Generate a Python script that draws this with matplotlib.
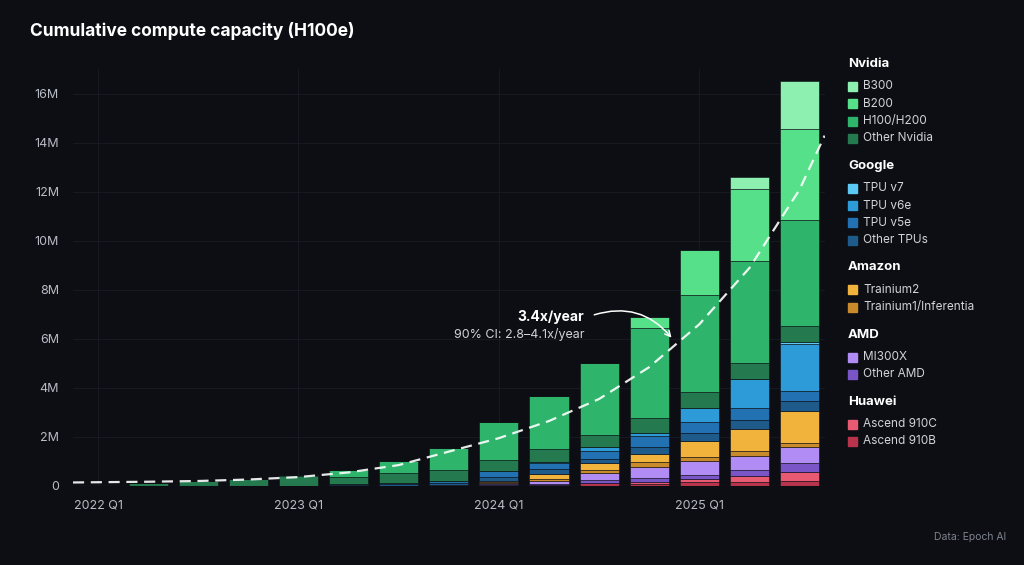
import matplotlib

matplotlib.use("Agg")
import matplotlib.pyplot as plt
from matplotlib.patches import Rectangle
import numpy as np

plt.rcParams["font.family"] = ["Inter", "DejaVu Sans"]

BG = "#0c0e13"

quarters = ["2022 Q1", "2022 Q2", "2022 Q3", "2022 Q4", "2023 Q1", "2023 Q2", "2023 Q3",
            "2023 Q4", "2024 Q1", "2024 Q2", "2024 Q3", "2024 Q4", "2025 Q1", "2025 Q2", "2025 Q3"]
tick_labels = ["2022 Q1", "2023 Q1", "2024 Q1", "2025 Q1"]

# values in millions H100e, bottom of stack first
ascend_910b = [0, 0, 0, 0, 0, 0, 0, 0, 0.02, 0.04, 0.10, 0.07, 0.14, 0.16, 0.18]
ascend_910c = [0, 0, 0, 0, 0, 0, 0, 0, 0, 0, 0, 0.07, 0.14, 0.24, 0.37]
other_amd = [0, 0, 0, 0, 0, 0, 0, 0, 0.05, 0.05, 0.16, 0.18, 0.18, 0.24, 0.38]
mi300x = [0, 0, 0, 0, 0, 0, 0, 0, 0.03, 0.13, 0.27, 0.44, 0.54, 0.57, 0.64]
trainium1 = [0, 0, 0, 0, 0, 0, 0, 0.02, 0.05, 0.07, 0.13, 0.20, 0.19, 0.20, 0.20]
trainium2 = [0, 0, 0, 0, 0, 0, 0, 0, 0.05, 0.20, 0.27, 0.34, 0.63, 0.93, 1.30]
other_tpus = [0, 0, 0, 0, 0, 0.05, 0.07, 0.10, 0.15, 0.20, 0.15, 0.27, 0.33, 0.33, 0.38]
tpu_v5e = [0, 0, 0, 0, 0, 0.03, 0.05, 0.08, 0.25, 0.25, 0.35, 0.45, 0.45, 0.52, 0.43]
tpu_v6e = [0, 0, 0, 0, 0, 0, 0, 0, 0, 0.05, 0.15, 0.16, 0.57, 1.16, 1.90]
tpu_v7 = [0, 0, 0, 0, 0, 0, 0, 0, 0, 0, 0, 0, 0, 0, 0.10]
other_nvidia = [0.02, 0.12, 0.20, 0.30, 0.40, 0.30, 0.40, 0.45, 0.45, 0.50, 0.50, 0.60, 0.65, 0.65, 0.65]
h100 = [0, 0, 0, 0, 0.05, 0.27, 0.50, 0.90, 1.55, 2.20, 2.94, 3.65, 3.96, 4.20, 4.33]
b200 = [0, 0, 0, 0, 0, 0, 0, 0, 0, 0, 0, 0.45, 1.84, 2.93, 3.71]
b300 = [0, 0, 0, 0, 0, 0, 0, 0, 0, 0, 0, 0, 0, 0.50, 1.96]

# trend line (x in quarter index)
trend_x = [-0.5, 0, 1, 2, 3, 4, 5, 6, 7, 8, 9, 10, 11, 12, 13, 14, 14.5]
trend_y = [0.14, 0.15, 0.17, 0.20, 0.26, 0.36, 0.55, 0.85, 1.40, 1.95, 2.65, 3.55, 4.85,
           6.60, 8.90, 12.10, 14.30]

series = [
    ("Ascend 910B", ascend_910b, "#b8344c"),
    ("Ascend 910C", ascend_910c, "#e85a72"),
    ("Other AMD", other_amd, "#7a55c8"),
    ("MI300X", mi300x, "#b18cf5"),
    ("Trainium1/Inferentia", trainium1, "#c88a2a"),
    ("Trainium2", trainium2, "#f2b33d"),
    ("Other TPUs", other_tpus, "#1e5a8a"),
    ("TPU v5e", tpu_v5e, "#2271b3"),
    ("TPU v6e", tpu_v6e, "#2e9bd9"),
    ("TPU v7", tpu_v7, "#5bc8f5"),
    ("Other Nvidia", other_nvidia, "#247a4e"),
    ("H100/H200", h100, "#2eb56b"),
    ("B200", b200, "#57e08a"),
    ("B300", b300, "#8ef0b0"),
]
colors = {name: c for name, _, c in series}

groups = [
    ("Nvidia", ["B300", "B200", "H100/H200", "Other Nvidia"]),
    ("Google", ["TPU v7", "TPU v6e", "TPU v5e", "Other TPUs"]),
    ("Amazon", ["Trainium2", "Trainium1/Inferentia"]),
    ("AMD", ["MI300X", "Other AMD"]),
    ("Huawei", ["Ascend 910C", "Ascend 910B"]),
]

fig = plt.figure(figsize=(10.24, 5.65), dpi=100, facecolor=BG)
ax = fig.add_axes([0.0713, 0.14, 0.734, 0.737], facecolor=BG)

x = np.arange(len(quarters))
bottom = np.zeros(len(quarters))
for name, vals, c in series:
    vals = np.array(vals)
    ax.bar(x, vals, 0.78, bottom=bottom, color=c, edgecolor=BG, linewidth=0.4)
    bottom += vals

ax.plot(trend_x, trend_y, color="white", lw=1.6, ls=(0, (5, 3)), alpha=0.9, zorder=5)

ax.set_xlim(-0.5, 14.5)
ax.set_ylim(0, 17)
ax.set_yticks(range(0, 17, 2))
ax.set_yticklabels(["0"] + [f"{v}M" for v in range(2, 17, 2)])
tick_pos = [quarters.index(t) for t in tick_labels]
ax.set_xticks(tick_pos)
ax.set_xticklabels(tick_labels)
ax.tick_params(colors="#b8bcc6", labelsize=9, length=0, pad=10)
ax.grid(True, color="#181c24", lw=0.6)
ax.set_axisbelow(True)
for s in ax.spines.values():
    s.set_visible(False)
ax.axhline(0, color="#3a3f4a", lw=0.8)

ax.text(9.7, 6.9, "3.4x/year", color="white", fontsize=10, fontweight="bold",
        ha="right", va="center")
ax.text(9.7, 6.2, "90% CI: 2.8–4.1x/year", color="#d0d3da", fontsize=9,
        ha="right", va="center")
ax.annotate("", xy=(11.48, 5.96), xytext=(9.85, 6.95),
            arrowprops=dict(arrowstyle="->", color="white", lw=1.1,
                            connectionstyle="arc3,rad=-0.35"))

fig.text(0.029, 0.945, "Cumulative compute capacity (H100e)", color="white",
         fontsize=12.5, fontweight="bold", va="center")
fig.text(0.983, 0.045, "Data: Epoch AI", color="#7d828d", fontsize=7.5, ha="right")

# grouped legend
lx, ly = 848, 64
for gname, items in groups:
    fig.text(lx / 1024, 1 - ly / 565, gname, color="white", fontsize=9.5,
             fontweight="bold", va="center")
    ly += 22.5
    for it in items:
        fig.patches.append(Rectangle((lx / 1024, 1 - (ly + 4.5) / 565), 9 / 1024, 9 / 565,
                                     transform=fig.transFigure, color=colors[it]))
        fig.text((lx + 15) / 1024, 1 - ly / 565, it, color="#d0d3da", fontsize=8.5,
                 va="center")
        ly += 17.3
    ly += 10

fig.savefig("out.png", dpi=100, facecolor=BG)
